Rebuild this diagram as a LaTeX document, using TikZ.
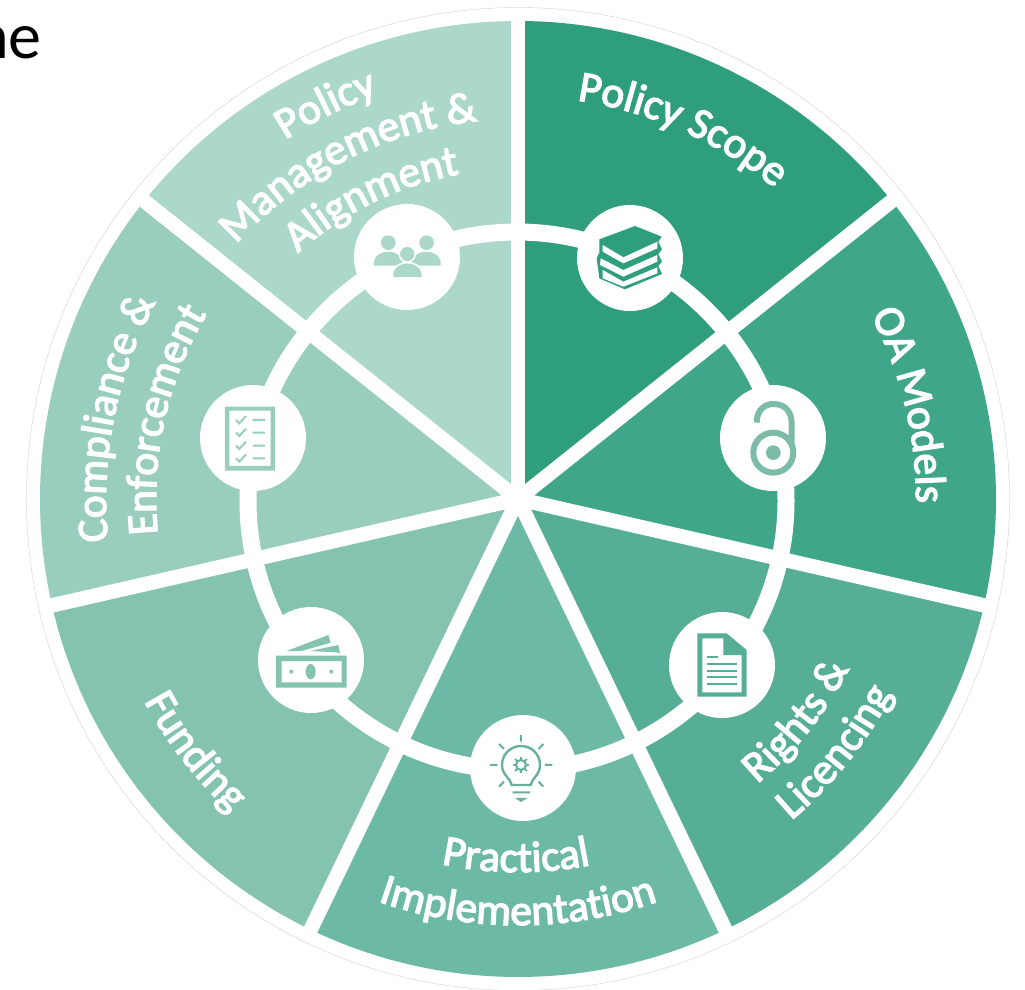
\documentclass[tikz,border=0pt]{standalone}
\usepackage{fontspec}
\setmainfont{Carlito}
\newfontfamily\lblfam{Carlito}[FakeBold=3]
\usetikzlibrary{decorations.text,calc}
\definecolor{secA}{RGB}{47,158,125}
\definecolor{secB}{RGB}{64,166,138}
\definecolor{secC}{RGB}{86,174,150}
\definecolor{secD}{RGB}{108,185,165}
\definecolor{secE}{RGB}{132,195,176}
\definecolor{secF}{RGB}{153,206,190}
\definecolor{secG}{RGB}{171,216,203}
\definecolor{oalock}{RGB}{125,187,169}
\newcommand{\lblfont}{\fontsize{43.5}{43.5}\selectfont\lblfam\color{white}}
\newcommand{\cwlabel}[3]{\path[decorate,decoration={text along path,text align=center,text={|\lblfont|#3}}] ($(ctr)+(#1+60:#2)$) arc[start angle=#1+60,end angle=#1-60,radius=#2];}
\newcommand{\ccwlabel}[3]{\path[decorate,decoration={text along path,text align=center,text={|\lblfont|#3}}] ($(ctr)+(#1-60:#2)$) arc[start angle=#1-60,end angle=#1+60,radius=#2];}
\newcommand{\wedgesec}[3]{\fill[#1] (ctr) -- ($(ctr)+(#2:478)$) arc[start angle=#2,end angle=#3,radius=478] -- cycle;}
\tikzset{
  iconbg/.style={circle,fill=white,draw=none,minimum size=106pt,inner sep=0pt},
  zoomA/.style={shift={(540,-180)},x=0.3333pt,y=-0.3333pt},
  zoomB/.style={shift={(440,-600)},x=0.3333pt,y=-0.3333pt},
  zoomC/.style={shift={(180,-200)},x=0.3333pt,y=-0.3333pt},
  zoomD/.style={shift={(230,-590)},x=0.3333pt,y=-0.3333pt},
  spoke/.style={white,line width=14.5pt},
  ringline/.style={white,line width=17pt}
}
\begin{document}
\begin{tikzpicture}[x=1pt,y=1pt]
\useasboundingbox (0,-990) rectangle (1025,0);
\fill[white] (0,-990) rectangle (1025,0);
\coordinate (ctr) at (518,-499);
\coordinate (ringc) at (517,-501);
% faint outer edge
\draw[black!22,line width=0.3pt] (ctr) circle[radius=491.5];
% sectors
\wedgesec{secA}{90}{38.57}
\wedgesec{secB}{38.57}{-12.86}
\wedgesec{secC}{-12.86}{-64.29}
\wedgesec{secD}{-64.29}{-115.71}
\wedgesec{secE}{-115.71}{-167.14}
\wedgesec{secF}{-167.14}{-218.57}
\wedgesec{secG}{-218.57}{-270}
% spokes
\foreach \a/\n in {90/a,38.57/b,-12.86/c,-64.29/d,-115.71/e,-167.14/f,141.43/g}{
  \coordinate (end\n) at ($(ctr)+(\a:486)$);
  \draw[spoke] (ctr) -- (end\n);
}
% ring
\draw[ringline] (ringc) circle[radius=269];
% icon backgrounds
\node[iconbg] (book) at (630,-258) {};
\node[iconbg] (oa) at (773,-438) {};
\node[iconbg] (docu) at (722,-665) {};
\node[iconbg] (bulb) at (523,-768) {};
\node[iconbg] (money) at (311,-660) {};
\node[iconbg] (check) at (253,-438) {};
\node[iconbg] (people) at (407,-257) {};
% book icon
\begin{scope}[zoomA]
\fill[secA] (178,178) -- (285,138) -- (365,170) -- (355,185) -- (366,208) -- (355,222) -- (366,245) -- (355,258) -- (366,282) -- (255,328) -- (178,295) -- (170,235) -- (178,218) -- cycle;
\fill[white] (188,195) -- (250,232) -- (352,185) -- (352,205) -- (250,250) -- (188,215) -- cycle;
\fill[white] (182,235) -- (250,270) -- (352,225) -- (352,245) -- (250,290) -- (180,255) -- cycle;
\fill[white] (188,270) -- (250,305) -- (352,262) -- (352,280) -- (250,320) -- (188,295) -- cycle;
% open access icon
\draw[oalock,line width=6pt] (700,818) circle[radius=60];
\fill[oalock] (700,818) circle[radius=22];
\draw[oalock,line width=6pt] (650,728) .. controls (650,690) and (675,672) .. (700,672) .. controls (735,672) and (755,695) .. (755,730) -- (755,790);
\end{scope}
% document and bulb icons
\begin{scope}[zoomB]
\fill[secC,even odd rule] (772,100) -- (860,100) -- (920,150) -- (920,290) -- (772,290) -- cycle (787,115) -- (850,115) -- (850,165) -- (905,165) -- (905,277) -- (787,277) -- cycle;
\fill[secC] (862,120) -- (862,150) -- (892,150) -- cycle;
\draw[secC,line width=2.3pt] (802,172) -- (833,172) (802,192) -- (890,192) (802,212) -- (890,212) (802,232) -- (890,232) (802,252) -- (890,252);
\draw[secD!95!black,line width=2.4pt] (215,555) .. controls (212,535) and (186,525) .. (186,495) .. controls (186,460) and (215,438) .. (243,438) .. controls (272,438) and (300,460) .. (300,495) .. controls (300,525) and (275,535) .. (272,555) -- cycle;
\draw[secD!95!black,line width=2.2pt] (243,495) circle[radius=15];
\foreach \t in {0,45,...,315}{\draw[secD!95!black,line width=2pt] ($(243,495)+(\t:15)$) -- ($(243,495)+(\t:25)$);}
\draw[secD!95!black,line width=2pt] (243,405) -- (243,425) (177,432) -- (192,447) (310,432) -- (296,447) (150,495) -- (172,495) (315,495) -- (337,495) (177,560) -- (192,545) (310,560) -- (296,545) (218,577) -- (270,577);
\fill[secD!95!black] (225,594) -- (262,594) -- (243,606) -- cycle;
\end{scope}
% checklist and people icons
\begin{scope}[zoomC]
\fill[secF,even odd rule] (135,620) rectangle (285,812) (148,632) rectangle (272,798);
\draw[secF,line width=2pt] (168,660) -- (178,670) -- (198,648) (218,660) -- (255,660)
 (168,698) -- (178,708) -- (198,686) (218,698) -- (255,698)
 (168,737) -- (178,747) -- (198,725) (218,737) -- (255,737)
 (168,775) -- (178,785) -- (198,763) (218,775) -- (255,775);
\fill[secG] (625,128) circle[radius=22] (740,128) circle[radius=22];
\fill[secG] (582,197) -- (582,185) .. controls (585,165) and (605,155) .. (625,155) .. controls (645,155) and (665,165) .. (668,185) -- (668,197) -- cycle;
\fill[secG] (696,197) -- (696,185) .. controls (699,165) and (719,155) .. (739,155) .. controls (759,155) and (779,165) .. (782,185) -- (782,197) -- cycle;
\filldraw[secG,draw=white,line width=1.5pt] (682,162) circle[radius=24];
\filldraw[secG,draw=white,line width=1.5pt] (638,234) -- (638,220) .. controls (642,198) and (660,188) .. (682,188) .. controls (704,188) and (722,198) .. (727,220) -- (727,234) -- cycle;
\end{scope}
% money icon
\begin{scope}[zoomD]
\fill[secE,even odd rule] (138,197) rectangle (350,293) (155,213) rectangle (335,277);
\fill[secE] (242,245) ellipse[x radius=15,y radius=23];
\fill[secE] (184,245) circle[radius=6] (304,245) circle[radius=6];
\fill[secE] (170,183) -- (295,135) -- (302,158) -- (215,183) -- cycle;
\fill[secE] (240,183) -- (325,165) -- (330,190) -- (320,187) -- cycle;
\end{scope}
% labels
\cwlabel{66}{403}{Policy Scope}
\cwlabel{13.5}{398}{OA Models}
\ccwlabel{-38.57}{372}{Rights {\&}}
\ccwlabel{-38.57}{422}{Licencing}
\ccwlabel{-90.3}{373}{Practical}
\ccwlabel{-90}{426}{Implementation}
\ccwlabel{-142}{425}{Funding}
\cwlabel{168.7}{412}{Compliance {\&}}
\cwlabel{167.4}{362}{Enforcement}
\cwlabel{116}{428}{Policy}
\cwlabel{117}{380}{Management {\&}}
\cwlabel{116}{330}{Alignment}
\node[anchor=base west,inner sep=0pt,font=\fontsize{66}{66}\selectfont,text=black] (cut) at (-26,-59) {ne};
\end{tikzpicture}
\end{document}
